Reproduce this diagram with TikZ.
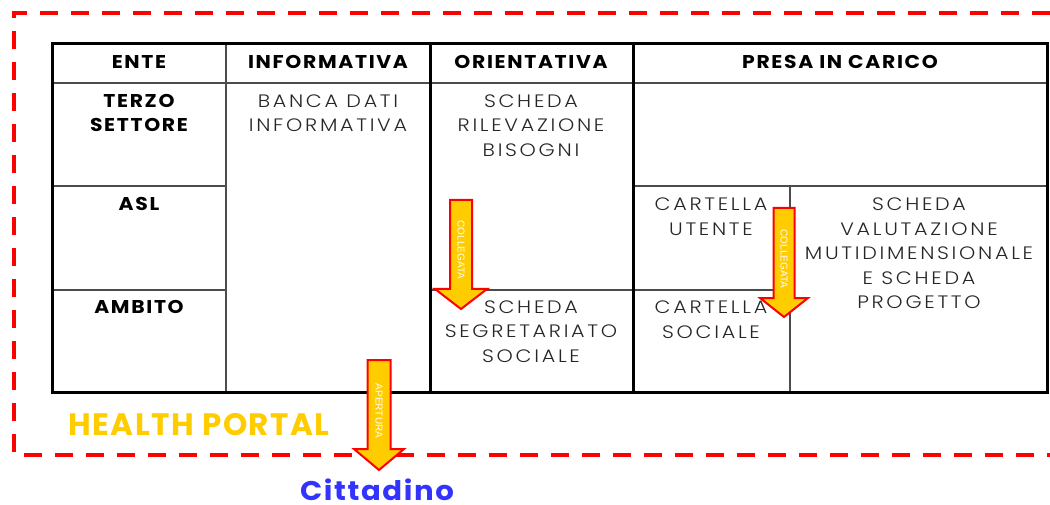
\documentclass[tikz,border=0pt]{standalone}
\usepackage{fontspec}
\setmainfont{Poppins}
\newfontfamily\hdrf{Poppins}[FakeStretch=1.1,LetterSpace=9]
\newfontfamily\lightf{Poppins Light}[FakeStretch=1.15,LetterSpace=15]
\newfontfamily\portalf{Poppins}[LetterSpace=5]
\newfontfamily\cittf{Poppins}[FakeStretch=1.08,LetterSpace=6]
\newfontfamily\narrowf{Liberation Sans}
\definecolor{gold}{HTML}{FFCC00}
\definecolor{citblue}{HTML}{3333FF}
\newcommand\flowarr[6]{%
  % #1 x, #2 ytop, #3 ytip, #4 shaft half, #5 head half, #6 head length
  \draw[flowarrow] (#1-#4,#2) -- (#1+#4,#2) -- (#1+#4,#3-#6) -- (#1+#5,#3-#6)
    -- (#1,#3) -- (#1-#5,#3-#6) -- (#1-#4,#3-#6) -- cycle;}
\begin{document}
\begin{tikzpicture}[x=1pt,y=-1pt,
  thickrule/.style={line width=3pt, black, line cap=rect},
  thinrule/.style={line width=1.1pt, black!70},
  hdr/.style={font=\hdrf\bfseries\fontsize{18.5}{24}\selectfont, align=center, inner sep=0pt},
  cell/.style={font=\lightf\fontsize{18}{24.5}\selectfont, align=center, inner sep=0pt, text=black!85},
  portal/.style={draw=red, line width=3.3pt, dash pattern=on 18pt off 13pt},
  flowarrow/.style={fill=gold, draw=red, line width=2pt, line join=miter},
  arrowlabel/.style={font=\narrowf\fontsize{10}{10}\selectfont, text=white, rotate=-90, inner sep=0pt},
]
\useasboundingbox (0,0) rectangle (1050,505);
% portal dashed frame
\draw[portal] (1050,13) -- (14,13) -- (14,455) -- (1050,455);
% table thin rules
\draw[thinrule] (52,83) -- (1047,83);
\draw[thinrule] (226,44) -- (226,392);
\draw[thinrule] (52,186) -- (226,186);
\draw[thinrule] (52,290) -- (226,290);
\draw[thinrule] (430,290) -- (633,290);
\draw[thinrule] (633,186) -- (1047,186);
\draw[thinrule] (790,186) -- (790,392);
\draw[thinrule] (633,290) -- (790,290);
% table thick rules
\draw[thickrule] (52,44) rectangle (1047,392);
\draw[thickrule] (430,44) -- (430,392);
\draw[thickrule] (633,44) -- (633,392);
% headers
\node[hdr] (hEnte) at (139,62) {ENTE};
\node[hdr] (hInfo) at (328,62) {INFORMATIVA};
\node[hdr] (hOrie) at (531,62) {ORIENTATIVA};
\node[hdr] (hPresa) at (840,62) {PRESA IN CARICO};
\node[hdr] (eTerzo) at (139,113) {TERZO\\SETTORE};
\node[hdr] (eAsl) at (139,204) {ASL};
\node[hdr] (eAmbito) at (139,307) {AMBITO};
% cells
\node[cell] (banca) at (328,113) {BANCA DATI\\INFORMATIVA};
\node[cell] (rilev) at (531,125.5) {SCHEDA\\RILEVAZIONE\\BISOGNI};
\node[cell] (segr) at (531,331.5) {SCHEDA\\SEGRETARIATO\\SOCIALE};
\node[cell] (cUtente) at (711,216.5) {CARTELLA\\UTENTE};
\node[cell] (cSociale) at (711,319.5) {CARTELLA\\SOCIALE};
\node[cell] (valut) at (919,253.5) {SCHEDA\\VALUTAZIONE\\MUTIDIMENSIONALE\\E SCHEDA\\PROGETTO};
% arrows
\flowarr{461}{200}{309}{11}{26}{20}
\node[arrowlabel] (lab1) at (461,250) {COLLEGATA};
\flowarr{784}{208}{317}{10.5}{24}{19}
\node[arrowlabel] (lab2) at (784,259) {COLLEGATA};
\flowarr{379}{360}{470}{11.5}{25}{21}
\node[arrowlabel] (lab3) at (379,411) {APERTURA};
% labels
\node[font=\portalf\bfseries\fontsize{31}{31}\selectfont, text=gold, inner sep=0pt] (portal) at (199,425) {HEALTH PORTAL};
\node[font=\cittf\bfseries\fontsize{27}{27}\selectfont, text=citblue, inner sep=0pt] (citt) at (377,490) {Cittadino};
\end{tikzpicture}
\end{document}
